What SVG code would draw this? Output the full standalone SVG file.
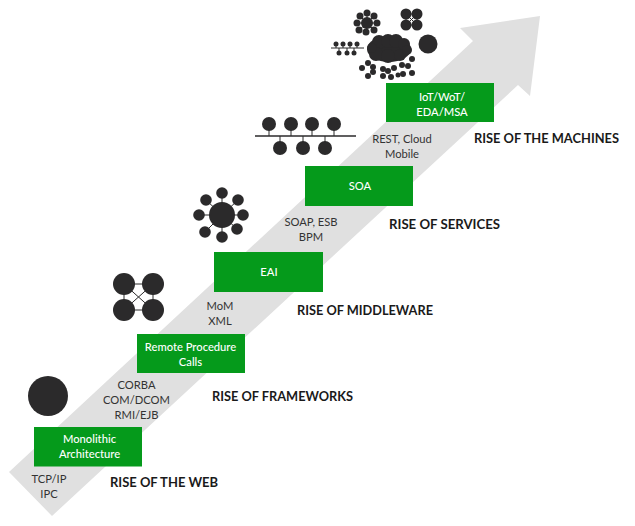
<svg xmlns="http://www.w3.org/2000/svg" width="635" height="526" viewBox="0 0 635 526">
<style>
text{font-family:"Lato","Open Sans","Liberation Sans",sans-serif;text-anchor:middle}
.b{fill:#059a1b}
.w{fill:#fff;font-size:11.200px;font-weight:500}
.g{fill:#333;font-size:11.200px}
.h{fill:#1a1a1a;font-size:14px;font-weight:700;text-anchor:start}
.d{fill:#2b2a2b}
.l{stroke:#2b2a2b;stroke-width:1;fill:none}
</style>
<rect width="635" height="526" fill="#fff"/>
<polygon id="arrow" fill="#e0e0e0" points="9,472 473,41 460,28 540,16 530,96 518,85 52,516"/>
<g id="connectors">
<path class="l" d="M124,284H153M124,310H153M124,284V310M153,284V310M124,284L153,310M153,284L124,310"/>
<path class="l" d="M222,215L206,200M222,215L222,193M222,215L238,200M222,215L199,215M222,215L243,215M222,215L205,232M222,215L222,237M222,215L237,229"/>
<path d="M255,136H356" stroke="#2b2a2b" stroke-width="1.500"/>
<path class="l" d="M269,124V136M291,124V136M312,124V136M334,124V136M280,136V148M303,136V148M325,136V148"/>
<path class="l" d="M331,48H364M336,44V48M343,44V48M350,44V48M357,44V48M339,48V53M347,48V53M354,48V53"/>
<path class="l" d="M367,23L357,23M367,23L377,23M367,23L367,13M367,23L366,32M367,23L360,16M367,23L374,16M367,23L359,30M367,23L374,30"/>
<path class="l" d="M406,14H417M406,25H417M406,14V25M417,14V25M406,14L417,25M417,14L406,25"/>
</g>
<g id="n1"><circle class="d" cx="48" cy="396" r="20"/>
<rect class="b" x="34" y="427" width="108" height="39.500"/><text class="w" x="89.500" y="443">Monolithic</text><text class="w" x="89.500" y="457.500">Architecture</text></g>
<g id="t1"><text class="g" x="49" y="483">TCP/IP</text><text class="g" x="49" y="498">IPC</text><text class="h" x="110" y="487" textLength="108" lengthAdjust="spacingAndGlyphs">RISE OF THE WEB</text></g>
<g id="n2"><circle class="d" cx="124" cy="284" r="11"/><circle class="d" cx="153" cy="284" r="11"/><circle class="d" cx="124" cy="310" r="11"/><circle class="d" cx="153" cy="310" r="11"/>
<rect class="b" x="137" y="334" width="108" height="39"/><text class="w" x="190.500" y="351">Remote Procedure</text><text class="w" x="190.500" y="366">Calls</text></g>
<g id="t2"><text class="g" x="136.500" y="389">CORBA</text><text class="g" x="136.500" y="404">COM/DCOM</text><text class="g" x="136.500" y="419">RMI/EJB</text><text class="h" x="212" y="401" textLength="141" lengthAdjust="spacingAndGlyphs">RISE OF FRAMEWORKS</text></g>
<g id="n3"><circle class="d" cx="222" cy="215" r="13"/><circle class="d" cx="222" cy="193" r="5.800"/><circle class="d" cx="238" cy="200" r="5.800"/><circle class="d" cx="243" cy="215" r="5.800"/><circle class="d" cx="237" cy="229" r="5.800"/><circle class="d" cx="222" cy="237" r="5.800"/><circle class="d" cx="205" cy="232" r="5.800"/><circle class="d" cx="199" cy="215" r="5.800"/><circle class="d" cx="206" cy="200" r="5.800"/>
<rect class="b" x="214" y="252" width="109" height="40"/><text class="w" x="269" y="276">EAI</text></g>
<g id="t3"><text class="g" x="220" y="310">MoM</text><text class="g" x="220" y="325">XML</text><text class="h" x="297" y="315" textLength="136" lengthAdjust="spacingAndGlyphs">RISE OF MIDDLEWARE</text></g>
<g id="n4"><circle class="d" cx="269" cy="124" r="7"/><circle class="d" cx="291" cy="124" r="7"/><circle class="d" cx="312" cy="124" r="7"/><circle class="d" cx="334" cy="124" r="7"/><circle class="d" cx="280" cy="148" r="7"/><circle class="d" cx="303" cy="148" r="7"/><circle class="d" cx="325" cy="148" r="7"/>
<rect class="b" x="305" y="166" width="108" height="40"/><text class="w" x="360" y="190">SOA</text></g>
<g id="t4"><text class="g" x="311" y="226">SOAP, ESB</text><text class="g" x="311" y="241">BPM</text><text class="h" x="389" y="229" textLength="111" lengthAdjust="spacingAndGlyphs">RISE OF SERVICES</text></g>
<g id="n5">
<circle class="d" cx="367" cy="23" r="6"/>
<circle class="d" cx="367" cy="13" r="3.500"/><circle class="d" cx="374" cy="16" r="3.500"/><circle class="d" cx="377" cy="23" r="3.500"/><circle class="d" cx="374" cy="30" r="3.500"/><circle class="d" cx="366" cy="32" r="3.500"/><circle class="d" cx="359" cy="30" r="3.500"/><circle class="d" cx="357" cy="23" r="3.500"/><circle class="d" cx="360" cy="16" r="3.500"/>
<circle class="d" cx="406" cy="14" r="5.500"/><circle class="d" cx="417" cy="14" r="5.500"/><circle class="d" cx="406" cy="25" r="5.500"/><circle class="d" cx="417" cy="25" r="5.500"/>
<circle class="d" cx="428" cy="44" r="9.500"/>
<circle class="d" cx="336" cy="44" r="2.500"/><circle class="d" cx="343" cy="44" r="2.500"/><circle class="d" cx="350" cy="44" r="2.500"/><circle class="d" cx="357" cy="44" r="2.500"/><circle class="d" cx="339" cy="53" r="2.500"/><circle class="d" cx="347" cy="53" r="2.500"/><circle class="d" cx="354" cy="53" r="2.500"/>
<ellipse class="d" cx="389" cy="49" rx="22" ry="13"/><circle class="d" cx="379" cy="42" r="7"/><circle class="d" cx="388" cy="41" r="7"/><circle class="d" cx="396" cy="41" r="7"/><circle class="d" cx="404" cy="44" r="6"/><circle class="d" cx="376" cy="54" r="7"/><circle class="d" cx="388" cy="56" r="7"/><circle class="d" cx="400" cy="55" r="6"/><circle class="d" cx="407" cy="50" r="5"/><circle class="d" cx="372" cy="48" r="5"/>
<circle class="d" cx="368" cy="63" r="3"/><circle class="d" cx="362" cy="68" r="3"/><circle class="d" cx="373" cy="67" r="3"/><circle class="d" cx="373" cy="72" r="3"/><circle class="d" cx="368" cy="76" r="3"/><circle class="d" cx="383" cy="69" r="3"/><circle class="d" cx="388" cy="71" r="3"/><circle class="d" cx="383" cy="76" r="3"/><circle class="d" cx="391" cy="77" r="3"/><circle class="d" cx="394" cy="68" r="3"/><circle class="d" cx="402" cy="65" r="3"/><circle class="d" cx="408" cy="66" r="3"/><circle class="d" cx="412" cy="59" r="3"/><circle class="d" cx="412" cy="73" r="3"/><circle class="d" cx="403" cy="74" r="3"/><circle class="d" cx="398" cy="75" r="2.500"/>
<rect class="b" x="386" y="83" width="108" height="39"/><text class="w" x="442" y="101">IoT/WoT/</text><text class="w" x="442" y="116">EDA/MSA</text></g>
<g id="t5"><text class="g" x="402" y="143">REST, Cloud</text><text class="g" x="402" y="158">Mobile</text><text class="h" x="474" y="143" textLength="145" lengthAdjust="spacingAndGlyphs">RISE OF THE MACHINES</text></g>
</svg>
